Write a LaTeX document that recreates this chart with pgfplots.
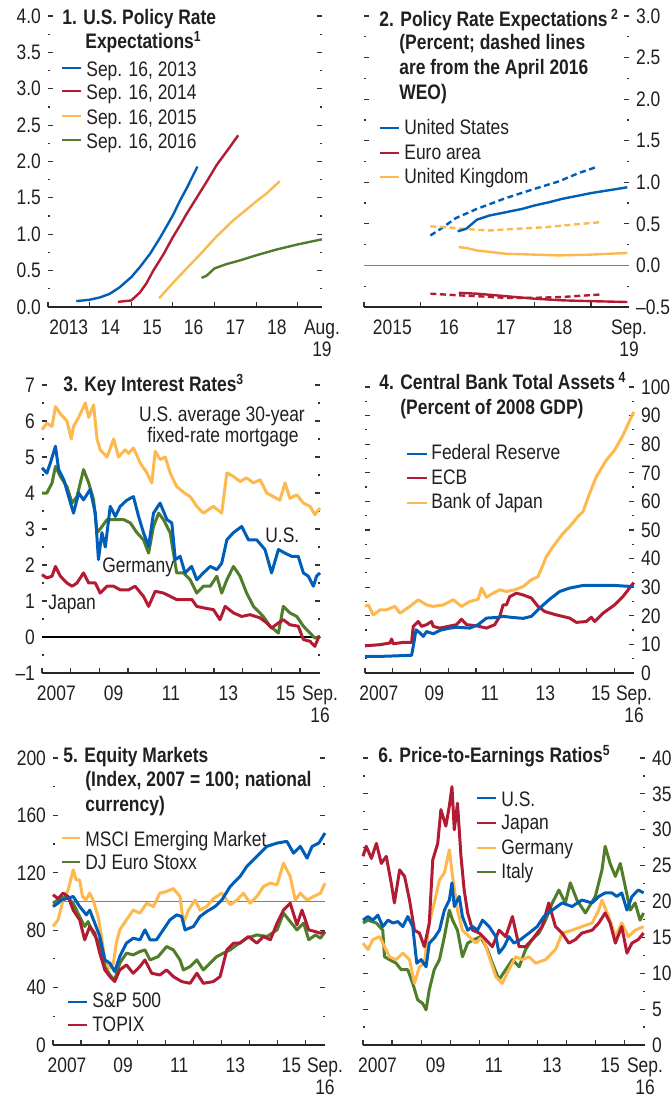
\documentclass[border=0pt]{standalone}
\usepackage{fontspec}
\setmainfont{Liberation Sans}[FakeStretch=0.83]
\usepackage{pgfplots}
\pgfplotsset{compat=1.18}
\definecolor{cb}{RGB}{0,94,184}
\definecolor{cr}{RGB}{179,27,52}
\definecolor{cy}{RGB}{253,184,78}
\definecolor{cg}{RGB}{79,125,42}
\definecolor{txt}{RGB}{35,31,32}
\newcommand\tlfont{\fontsize{10.5}{11.2}\selectfont}
\newcommand\tx[3]{\node[anchor=base west,inner sep=0pt,text=txt,font=\tlfont] at (#1,#2) {#3};}
\newcommand\ttl[3]{\node[anchor=base west,inner sep=0pt,text=txt,font=\tlfont\bfseries] at (#1,#2) {#3};}
\newcommand\lgd[4]{\draw[#4,line width=1.3pt] (#1,#3) -- (#2,#3);}
\pgfplotsset{
  imf/.style={
    scale only axis, clip=false, anchor=south west,
    axis line style={draw=none},
    xtick pos=left, ytick pos=both,
    tick align=inside,
    major tick length=2.7pt, minor tick length=1.1pt,
    tick style={line width=0.6pt, black!80},
    minor y tick num=1,
    tick label style={font=\tlfont, text=txt},
    xticklabel style={align=center, yshift=-2.8pt},
    xticklabels={},
    extra x tick style={tick style={draw=none}},
    no markers,
    every axis plot/.append style={line join=round, line width=1.2pt},
  },
  daily/.style={imf, xmin=2007, xmax=2016.7,
    xtick={2007,2008,2009,2010,2011,2012,2013,2014,2015,2016},
    extra x ticks={2007.5,2009.5,2011.5,2013.5,2015.5,2016.7},
    extra x tick labels={2007,09,11,13,15,{Sep.\\16}},
    every axis plot/.append style={line width=1.5pt}},
}
\begin{document}
\begin{tikzpicture}
\useasboundingbox (0,0) rectangle (335.5pt,548.5pt);

% ---------- Panel 1
\begin{axis}[imf, at={(24pt,395pt)}, width=137pt, height=145.5pt,
  xmin=2013, xmax=2019.583, ymin=0, ymax=4,
  xtick={2013,2014,2015,2016,2017,2018,2019},
  extra x ticks={2013.5,2014.5,2015.5,2016.5,2017.5,2018.5,2019.583},
  extra x tick labels={2013,14,15,16,17,18,{Aug.\\19}},
  ytick={0,0.5,1,1.5,2,2.5,3,3.5,4},
  yticklabels={0.0,0.5,1.0,1.5,2.0,2.5,3.0,3.5,4.0}]
\draw[line width=0.7pt, black!85] (rel axis cs:0,0) -- (rel axis cs:1,0);
\addplot[cb] coordinates {(2013.68,0.08)(2014.0,0.10)(2014.24,0.13)(2014.48,0.18)(2014.72,0.27)(2015.0,0.41)(2015.21,0.55)(2015.45,0.73)(2015.69,0.95)(2016.0,1.26)(2016.17,1.46)(2016.33,1.63)(2016.59,1.93)};
\addplot[cr] coordinates {(2014.68,0.07)(2015.0,0.09)(2015.21,0.2)(2015.37,0.33)(2015.53,0.5)(2015.77,0.72)(2016.0,0.96)(2016.17,1.12)(2016.33,1.28)(2016.57,1.5)(2016.81,1.72)(2017.05,1.95)(2017.37,2.2)(2017.57,2.36)};
\addplot[cy] coordinates {(2015.67,0.12)(2016.0,0.33)(2016.33,0.53)(2016.65,0.72)(2017.05,0.97)(2017.45,1.19)(2018.0,1.45)(2018.25,1.56)(2018.57,1.73)};
\addplot[cg] coordinates {(2016.69,0.40)(2016.81,0.43)(2017.0,0.53)(2017.29,0.59)(2017.61,0.64)(2018.0,0.71)(2018.49,0.79)(2019.0,0.86)(2019.58,0.93)};
\end{axis}

% ---------- Panel 2
\begin{axis}[imf, at={(182pt,395pt)}, width=132.5pt, height=145.5pt,
  xmin=2015, xmax=2019.67, ymin=-0.5, ymax=3,
  xtick={2015,2016,2017,2018,2019},
  extra x ticks={2015.5,2016.5,2017.5,2018.5,2019.67},
  extra x tick labels={2015,16,17,18,{Sep.\\19}},
  ytick={-0.5,0,0.5,1,1.5,2,2.5,3},
  yticklabels={--0.5,0.0,0.5,1.0,1.5,2.0,2.5,3.0},
  yticklabel pos=right]
\draw[line width=0.7pt, black!85] (rel axis cs:0,0) -- (rel axis cs:1,0);
\addplot[gray, line width=0.6pt] coordinates {(2015,0)(2019.67,0)};
\addplot[cb, dashed, dash pattern=on 3pt off 1.8pt] coordinates {(2016.17,0.36)(2016.33,0.43)(2016.62,0.57)(2016.99,0.68)(2017.50,0.81)(2018.0,0.92)(2018.43,1.01)(2018.78,1.11)(2019.08,1.18)};
\addplot[cy, dashed, dash pattern=on 3pt off 1.8pt] coordinates {(2016.17,0.47)(2016.45,0.46)(2016.74,0.44)(2017.21,0.42)(2017.67,0.44)(2018.20,0.46)(2018.67,0.49)(2019.16,0.52)};
\addplot[cr, dashed, dash pattern=on 3pt off 1.8pt] coordinates {(2016.17,-0.34)(2016.67,-0.36)(2016.99,-0.37)(2017.50,-0.39)(2018.0,-0.39)(2018.49,-0.38)(2019.16,-0.35)};
\addplot[cb] coordinates {(2016.65,0.41)(2016.80,0.44)(2016.99,0.55)(2017.21,0.60)(2017.50,0.64)(2017.79,0.68)(2018.0,0.72)(2018.26,0.76)(2018.49,0.80)(2018.78,0.84)(2019.0,0.87)(2019.37,0.91)(2019.64,0.94)};
\addplot[cy] coordinates {(2016.67,0.22)(2016.80,0.21)(2016.99,0.18)(2017.50,0.14)(2018.0,0.13)(2018.43,0.12)(2019.0,0.13)(2019.64,0.15)};
\addplot[cr] coordinates {(2016.67,-0.33)(2016.99,-0.34)(2017.50,-0.37)(2018.0,-0.40)(2018.49,-0.42)(2019.0,-0.43)(2019.64,-0.44)};
\end{axis}

% ---------- Panel 3
\begin{axis}[daily, at={(21pt,212pt)}, width=139pt, height=144pt,
  ymin=-1, ymax=7,
  ytick={-1,0,1,2,3,4,5,6,7},
  yticklabels={--1,0,1,2,3,4,5,6,7}]
\draw[line width=0.7pt, black!85] (rel axis cs:0,0) -- (rel axis cs:1,0);
\addplot[black, line width=0.6pt] coordinates {(2007,0)(2016.7,0)};
\addplot[cy] coordinates {(2007.00,5.76)(2007.17,5.94)(2007.35,5.85)(2007.47,6.40)(2007.64,6.20)(2007.87,6.00)(2008.02,5.50)(2008.10,5.85)(2008.28,6.10)(2008.51,6.50)(2008.63,6.10)(2008.80,6.45)(2008.92,5.50)(2009.03,5.20)(2009.27,5.00)(2009.50,5.50)(2009.67,5.00)(2009.90,5.20)(2010.02,5.10)(2010.19,5.25)(2010.43,4.83)(2010.66,4.56)(2010.83,4.28)(2010.95,5.16)(2011.12,4.93)(2011.30,5.00)(2011.47,4.56)(2011.70,4.18)(2011.97,4.00)(2012.17,3.90)(2012.40,3.63)(2012.63,3.44)(2012.98,3.63)(2013.27,3.44)(2013.45,4.56)(2013.68,4.46)(2013.91,4.32)(2014.14,4.42)(2014.38,4.28)(2014.61,4.37)(2014.84,4.00)(2015.07,3.90)(2015.30,3.80)(2015.48,4.28)(2015.65,3.85)(2015.89,3.95)(2016.12,3.72)(2016.35,3.63)(2016.52,3.40)(2016.70,3.58)};
\addplot[cg] coordinates {(2007.00,4.00)(2007.17,4.00)(2007.35,4.28)(2007.47,4.74)(2007.64,4.46)(2007.87,4.18)(2008.05,3.72)(2008.22,3.90)(2008.45,4.65)(2008.63,4.28)(2008.80,3.81)(2008.92,2.90)(2009.03,3.00)(2009.27,3.26)(2009.56,3.26)(2009.85,3.26)(2010.08,3.17)(2010.31,2.90)(2010.54,2.70)(2010.72,2.33)(2010.89,3.07)(2011.07,3.44)(2011.24,3.26)(2011.47,2.90)(2011.70,1.78)(2011.94,1.78)(2012.17,1.59)(2012.40,1.22)(2012.63,1.41)(2012.87,1.41)(2013.10,1.69)(2013.27,1.22)(2013.45,1.59)(2013.68,1.96)(2013.91,1.69)(2014.14,1.22)(2014.38,0.85)(2014.72,0.57)(2014.96,0.30)(2015.25,0.11)(2015.42,0.85)(2015.65,0.67)(2015.89,0.57)(2016.12,0.30)(2016.35,0.11)(2016.52,-0.03)(2016.70,0.02)};
\addplot[cb] coordinates {(2007.00,4.70)(2007.17,4.55)(2007.29,4.83)(2007.47,5.30)(2007.58,4.65)(2007.76,4.37)(2007.93,3.90)(2008.10,3.44)(2008.28,4.00)(2008.45,3.81)(2008.68,4.10)(2008.86,3.44)(2008.97,2.15)(2009.09,2.90)(2009.21,2.50)(2009.38,3.63)(2009.56,3.35)(2009.73,3.63)(2009.96,3.80)(2010.19,3.90)(2010.37,3.35)(2010.54,2.90)(2010.72,2.52)(2010.89,3.44)(2011.12,3.72)(2011.36,3.26)(2011.53,3.17)(2011.65,2.15)(2011.82,2.24)(2011.99,1.78)(2012.22,1.96)(2012.40,1.59)(2012.63,1.78)(2012.87,1.96)(2013.10,1.87)(2013.27,2.05)(2013.45,2.70)(2013.68,2.90)(2013.97,3.07)(2014.20,2.70)(2014.49,2.70)(2014.78,2.43)(2015.01,1.78)(2015.25,2.43)(2015.48,2.33)(2015.71,2.24)(2015.94,2.24)(2016.12,1.78)(2016.29,1.69)(2016.47,1.41)(2016.58,1.69)(2016.70,1.78)};
\addplot[cr] coordinates {(2007.00,1.73)(2007.17,1.64)(2007.35,1.69)(2007.47,1.96)(2007.64,1.69)(2007.87,1.50)(2008.05,1.41)(2008.22,1.50)(2008.45,1.78)(2008.63,1.50)(2008.86,1.50)(2009.03,1.22)(2009.27,1.41)(2009.50,1.41)(2009.73,1.31)(2010.02,1.31)(2010.25,1.41)(2010.54,1.13)(2010.72,0.85)(2010.95,1.27)(2011.24,1.22)(2011.47,1.13)(2011.70,1.04)(2011.97,1.04)(2012.23,1.04)(2012.40,0.85)(2012.69,0.80)(2012.98,0.76)(2013.21,0.48)(2013.39,0.85)(2013.68,0.67)(2013.97,0.57)(2014.26,0.62)(2014.61,0.53)(2014.84,0.39)(2015.01,0.25)(2015.25,0.39)(2015.42,0.48)(2015.65,0.34)(2015.94,0.30)(2016.12,-0.07)(2016.35,-0.12)(2016.52,-0.26)(2016.64,-0.03)(2016.70,0.02)};
\end{axis}

% ---------- Panel 4
\begin{axis}[daily, at={(182.5pt,212pt)}, width=134.5pt, height=143pt,
  ymin=0, ymax=100,
  ytick={0,10,20,30,40,50,60,70,80,90,100},
  yticklabels={0,10,20,30,40,50,60,70,80,90,100},
  yticklabel pos=right]
\draw[line width=0.7pt, black!85] (rel axis cs:0,0) -- (rel axis cs:1,0);
\addplot[cy] coordinates {(2007.00,23.3)(2007.12,23.8)(2007.30,20.3)(2007.54,22.1)(2007.78,22.1)(2008.08,23.3)(2008.26,20.9)(2008.62,23.3)(2008.92,25.6)(2009.22,23.8)(2009.46,23.3)(2009.82,23.8)(2010.18,25.6)(2010.48,23.3)(2010.78,25.0)(2011.08,25.8)(2011.20,29.7)(2011.38,26.5)(2011.62,27.9)(2011.86,29.1)(2012.10,28.5)(2012.40,29.1)(2012.70,30.2)(2013.00,32.6)(2013.24,33.7)(2013.54,40.7)(2013.78,44.2)(2014.14,48.8)(2014.38,51.2)(2014.68,54.7)(2014.86,56.4)(2015.10,62.8)(2015.34,68.6)(2015.70,74.4)(2016.00,77.9)(2016.30,83.1)(2016.69,91.3)};
\addplot[cr] coordinates {(2007.00,9.5)(2007.54,9.9)(2007.90,10.5)(2007.96,11.9)(2008.02,10.2)(2008.38,10.7)(2008.68,10.7)(2008.74,16.3)(2008.92,18.0)(2009.04,16.3)(2009.22,16.9)(2009.40,18.0)(2009.46,16.3)(2009.70,15.7)(2010.00,16.3)(2010.30,16.9)(2010.48,18.8)(2010.66,16.9)(2011.02,16.5)(2011.38,15.7)(2011.68,16.9)(2011.86,19.8)(2011.98,23.8)(2012.10,23.8)(2012.22,26.7)(2012.46,27.9)(2012.70,27.3)(2013.00,26.2)(2013.24,23.3)(2013.48,21.5)(2013.90,20.3)(2014.38,19.2)(2014.62,17.7)(2014.98,18.0)(2015.16,19.5)(2015.28,18.0)(2015.58,20.9)(2016.00,23.8)(2016.30,26.7)(2016.69,31.6)};
\addplot[cb] coordinates {(2007.00,5.8)(2007.54,5.8)(2008.14,6.0)(2008.68,6.2)(2008.74,9.3)(2008.84,15.1)(2008.98,14.0)(2009.10,12.8)(2009.22,14.5)(2009.46,13.7)(2009.70,14.9)(2010.00,15.6)(2010.30,16.0)(2010.78,15.7)(2011.08,16.9)(2011.38,19.2)(2011.74,19.4)(2011.98,19.8)(2012.34,19.4)(2012.70,19.1)(2013.00,19.8)(2013.30,22.7)(2013.66,25.8)(2014.02,28.5)(2014.38,29.7)(2014.86,30.6)(2015.34,30.6)(2016.00,30.6)(2016.69,30.2)};
\end{axis}

% ---------- Panel 5
\begin{axis}[daily, at={(26.5pt,26pt)}, width=136pt, height=143.5pt,
  ymin=0, ymax=200,
  ytick={0,40,80,120,160,200},
  yticklabels={0,40,80,120,160,200}]
\draw[line width=0.7pt, black!85] (rel axis cs:0,0) -- (rel axis cs:1,0);
\addplot[gray, line width=0.8pt] coordinates {(2007,100)(2016.7,100)};
\addplot[cy] coordinates {(2007.00,82.6)(2007.18,87.2)(2007.36,101)(2007.54,108)(2007.72,122)(2007.83,115)(2007.95,115)(2008.05,103.5)(2008.17,101)(2008.31,105.8)(2008.43,101)(2008.61,89.5)(2008.73,75.6)(2008.85,59.3)(2009.03,53.5)(2009.15,57)(2009.26,71)(2009.38,80.2)(2009.62,87.2)(2009.86,94)(2010.10,91.9)(2010.34,98.8)(2010.58,96.5)(2010.81,105.8)(2011.05,107)(2011.29,109)(2011.53,103.5)(2011.65,84.9)(2011.83,94)(2012.07,101)(2012.24,94)(2012.48,96.5)(2012.72,102)(2013.02,105.8)(2013.32,97.7)(2013.56,101)(2013.79,105.8)(2014.03,98.8)(2014.27,103.5)(2014.51,110.5)(2014.75,112.8)(2014.99,111.6)(2015.22,126.7)(2015.46,117.4)(2015.64,101)(2015.82,105.8)(2016.06,101)(2016.30,103.5)(2016.54,105.8)(2016.70,112.8)};
\addplot[cg] coordinates {(2007.00,98.8)(2007.24,102)(2007.48,103.5)(2007.72,98.8)(2007.95,89.5)(2008.13,82.6)(2008.25,86)(2008.43,77.9)(2008.67,71)(2008.85,54.7)(2009.03,48.8)(2009.20,45.3)(2009.38,57)(2009.62,64)(2009.86,62.8)(2010.10,65.1)(2010.28,66.3)(2010.46,59.3)(2010.75,61.6)(2011.05,68.6)(2011.29,66.3)(2011.53,59.3)(2011.65,52.3)(2011.89,54.7)(2012.13,59.3)(2012.36,52.3)(2012.60,57)(2012.84,61.6)(2013.08,64)(2013.32,66.3)(2013.56,69.8)(2013.91,74.4)(2014.27,76.7)(2014.63,75.6)(2014.99,80.2)(2015.22,91.9)(2015.46,86)(2015.70,80.2)(2015.94,84.9)(2016.12,73.3)(2016.36,76.7)(2016.54,74.4)(2016.70,79)};
\addplot[cr] coordinates {(2007.00,104.7)(2007.18,102)(2007.36,105.8)(2007.54,103.5)(2007.72,94)(2007.95,87.2)(2008.13,73.3)(2008.31,82.6)(2008.49,77.9)(2008.67,64)(2008.85,52.3)(2009.03,47.7)(2009.20,44.2)(2009.38,52.3)(2009.62,55.8)(2009.86,50)(2010.10,54.7)(2010.28,59.3)(2010.52,50)(2010.81,48.8)(2011.05,52.3)(2011.29,47.7)(2011.59,44.2)(2011.89,43)(2012.13,50)(2012.36,43)(2012.72,44.2)(2012.96,47.7)(2013.20,66.3)(2013.44,71)(2013.67,71)(2013.97,75.6)(2014.27,71)(2014.51,75.6)(2014.75,73.3)(2014.99,84.9)(2015.22,94)(2015.46,98.8)(2015.70,83.7)(2015.88,94)(2016.12,80.2)(2016.36,79)(2016.54,77.9)(2016.70,79)};
\addplot[cb] coordinates {(2007.00,96.5)(2007.18,98.8)(2007.30,101)(2007.48,102)(2007.72,103.5)(2007.95,96.5)(2008.19,90.7)(2008.31,94)(2008.49,84.9)(2008.67,75.6)(2008.85,59.3)(2009.03,57)(2009.20,51.2)(2009.38,61.6)(2009.62,71)(2009.86,74.4)(2010.10,73.3)(2010.28,80.2)(2010.46,73.3)(2010.69,73.3)(2010.93,80.2)(2011.17,87.2)(2011.41,90.7)(2011.59,89.5)(2011.71,80.2)(2012.01,82.6)(2012.24,89.5)(2012.48,93)(2012.78,96.5)(2013.02,101)(2013.32,110.5)(2013.67,117.4)(2013.91,124.4)(2014.27,131.4)(2014.63,138.4)(2014.99,140.7)(2015.34,141.9)(2015.58,133.7)(2015.82,138.4)(2016.06,130.2)(2016.24,138.4)(2016.48,140.7)(2016.70,147.7)};
\end{axis}

% ---------- Panel 6
\begin{axis}[daily, at={(181.5pt,26pt)}, width=141pt, height=143.5pt,
  ymin=0, ymax=40,
  ytick={0,5,10,15,20,25,30,35,40},
  yticklabels={0,5,10,15,20,25,30,35,40},
  yticklabel pos=right]
\draw[line width=0.7pt, black!85] (rel axis cs:0,0) -- (rel axis cs:1,0);
\addplot[cg] coordinates {(2007.00,17.0)(2007.17,17.4)(2007.46,17.0)(2007.68,16.0)(2007.74,12.3)(2007.91,11.9)(2008.14,11.4)(2008.31,10.5)(2008.54,10.5)(2008.71,8.6)(2008.88,6.3)(2009.05,5.8)(2009.17,4.9)(2009.28,7.7)(2009.45,10.5)(2009.63,11.9)(2009.80,15.1)(2009.97,18.8)(2010.08,17.4)(2010.25,16.0)(2010.42,12.3)(2010.60,14.2)(2010.82,14.7)(2011.05,15.1)(2011.28,13.3)(2011.45,11.4)(2011.68,9.1)(2011.91,10.5)(2012.14,11.9)(2012.37,10.9)(2012.59,13.3)(2012.82,14.7)(2013.05,15.6)(2013.28,17.4)(2013.51,19.8)(2013.74,21.6)(2013.96,19.8)(2014.13,22.6)(2014.36,20.2)(2014.65,18.4)(2014.99,20.7)(2015.22,24.4)(2015.33,27.7)(2015.50,25.3)(2015.68,23.5)(2015.85,25.3)(2016.02,22.1)(2016.19,18.8)(2016.36,19.8)(2016.53,17.4)(2016.65,18.4)};
\addplot[cy] coordinates {(2007.00,14.2)(2007.17,13.3)(2007.34,14.7)(2007.57,15.1)(2007.74,13.7)(2007.91,12.3)(2008.14,11.9)(2008.37,12.8)(2008.60,11.9)(2008.77,8.6)(2008.94,10.9)(2009.11,11.4)(2009.28,17.0)(2009.45,19.8)(2009.63,23.0)(2009.80,24.0)(2009.97,27.2)(2010.08,23.5)(2010.25,18.8)(2010.42,16.0)(2010.65,15.1)(2010.88,14.2)(2011.11,15.1)(2011.34,12.3)(2011.57,9.5)(2011.79,8.6)(2012.02,10.5)(2012.25,12.3)(2012.48,11.9)(2012.71,12.3)(2012.94,11.4)(2013.28,11.9)(2013.62,13.3)(2013.85,15.6)(2014.19,16.0)(2014.53,16.5)(2014.88,17.0)(2015.11,18.8)(2015.22,20.2)(2015.45,17.9)(2015.68,15.1)(2015.90,17.0)(2016.13,15.1)(2016.36,16.0)(2016.65,16.5)};
\addplot[cr] coordinates {(2007.00,26.3)(2007.11,27.7)(2007.29,26.0)(2007.46,28.1)(2007.63,25.3)(2007.80,26.3)(2007.97,22.6)(2008.08,19.8)(2008.26,24.4)(2008.43,23.5)(2008.60,20.2)(2008.77,16.0)(2008.94,15.6)(2009.11,13.7)(2009.28,17.0)(2009.40,25.8)(2009.57,28.1)(2009.68,32.8)(2009.85,30.5)(2009.97,33.3)(2010.06,36.0)(2010.14,30.0)(2010.25,33.7)(2010.37,26.3)(2010.48,21.6)(2010.60,18.4)(2010.77,16.0)(2011.00,15.6)(2011.22,14.7)(2011.45,13.7)(2011.68,16.0)(2011.91,15.1)(2012.14,17.9)(2012.37,13.7)(2012.59,13.7)(2012.82,14.7)(2013.16,16.5)(2013.39,19.8)(2013.62,16.5)(2013.85,15.6)(2014.08,14.2)(2014.31,14.7)(2014.53,15.6)(2014.88,16.0)(2015.11,17.0)(2015.33,18.4)(2015.50,17.0)(2015.68,14.2)(2015.90,16.5)(2016.08,12.8)(2016.25,14.2)(2016.47,14.7)(2016.65,15.6)};
\addplot[cb] coordinates {(2007.00,17.4)(2007.17,17.9)(2007.34,17.4)(2007.51,18.1)(2007.68,16.5)(2007.86,17.4)(2008.03,17.0)(2008.20,17.2)(2008.37,16.5)(2008.54,17.9)(2008.71,16.5)(2008.85,11.4)(2009.00,11.9)(2009.17,10.9)(2009.28,14.2)(2009.45,14.9)(2009.63,16.0)(2009.80,18.8)(2009.97,20.2)(2010.06,22.6)(2010.14,19.3)(2010.31,20.7)(2010.42,17.9)(2010.60,16.0)(2010.77,16.5)(2010.94,16.0)(2011.11,17.4)(2011.34,16.5)(2011.57,15.1)(2011.68,12.8)(2011.85,13.7)(2012.02,15.1)(2012.19,14.2)(2012.42,14.7)(2012.71,15.6)(2012.99,16.5)(2013.22,17.9)(2013.51,18.8)(2013.85,19.8)(2014.19,19.3)(2014.53,20.2)(2014.88,19.8)(2015.11,20.7)(2015.33,21.2)(2015.56,21.2)(2015.73,20.7)(2015.90,21.2)(2016.08,18.8)(2016.25,20.7)(2016.47,21.6)(2016.65,21.2)};
\end{axis}

% ---------- titles, labels, legends (pixel grid of the reference)
\begin{scope}[x=0.5pt, y=-0.5pt, yshift=548.5pt]
\ttl{62}{25}{1. U.S. Policy Rate}
\ttl{85}{49}{Expectations\textsuperscript{1}}
\lgd{62}{81}{68}{cb} \tx{86}{77}{Sep. 16, 2013}
\lgd{62}{81}{91}{cr} \tx{86}{100}{Sep. 16, 2014}
\lgd{62}{81}{116}{cy} \tx{86}{125}{Sep. 16, 2015}
\lgd{62}{81}{140}{cg} \tx{86}{149}{Sep. 16, 2016}

\ttl{379}{27}{2. Policy Rate Expectations\,\textsuperscript{2}}
\ttl{399}{50}{(Percent; dashed lines}
\ttl{399}{75}{are from the April 2016}
\ttl{399}{100}{WEO)}
\lgd{380}{399}{128}{cb} \tx{404}{135}{United States}
\lgd{380}{399}{153}{cr} \tx{404}{160}{Euro area}
\lgd{380}{399}{177}{cy} \tx{404}{184}{United Kingdom}

\ttl{63}{392}{3. Key Interest Rates\textsuperscript{3}}
\node[anchor=base,inner sep=0pt,text=txt,font=\tlfont] at (222,422) {U.S. average 30-year};
\node[anchor=base,inner sep=0pt,text=txt,font=\tlfont] at (223,443) {fixed-rate mortgage};
\tx{265}{543}{U.S.}
\tx{102}{573}{Germany}
\tx{48}{610}{Japan}

\ttl{379}{390}{4. Central Bank Total Assets\,\textsuperscript{4}}
\ttl{400}{415}{(Percent of 2008 GDP)}
\lgd{407}{427}{454}{cb} \tx{431}{460}{Federal Reserve}
\lgd{407}{427}{478}{cr} \tx{431}{485}{ECB}
\lgd{407}{427}{503}{cy} \tx{431}{509}{Bank of Japan}

\ttl{63}{763}{5. Equity Markets}
\ttl{85}{787}{(Index, 2007 = 100; national}
\ttl{85}{812}{currency)}
\lgd{62}{80}{838}{cy} \tx{85}{847}{MSCI Emerging Market}
\lgd{62}{80}{862}{cg} \tx{85}{870}{DJ Euro Stoxx}
\lgd{68}{87}{1002}{cb} \tx{92}{1008}{S\&P 500}
\lgd{68}{87}{1025}{cr} \tx{92}{1032}{TOPIX}

\ttl{378}{763}{6. Price-to-Earnings Ratios\textsuperscript{5}}
\lgd{477}{496}{798}{cb} \tx{501}{807}{U.S.}
\lgd{477}{496}{823}{cr} \tx{501}{830}{Japan}
\lgd{477}{496}{848}{cy} \tx{501}{855}{Germany}
\lgd{477}{496}{872}{cg} \tx{501}{879}{Italy}
\end{scope}
\end{tikzpicture}
\end{document}
